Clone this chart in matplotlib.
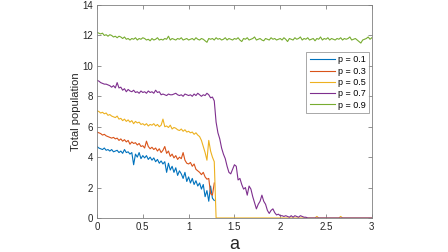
import numpy as np
import matplotlib
matplotlib.use("Agg")
import matplotlib.pyplot as plt

plt.rcParams.update({
    'font.family': ['Liberation Sans', 'DejaVu Sans'],
    'font.size': 7,
})

# a axis sampled every 0.02
a_step = 0.02

p_green = [  # p = 0.9
    12.2, 12.15, 12.1, 12.15, 12.0, 12.05, 11.95, 12.05, 12.0, 11.9, 11.95,
    11.85, 11.95, 11.9, 11.8, 11.9, 11.75, 11.8, 11.7, 11.8, 11.75, 11.85, 11.7, 11.8, 11.75, 11.85,
    11.8, 11.7, 11.75, 11.65, 11.8, 11.7, 11.75, 11.85, 11.7, 11.75, 11.7, 11.8, 11.75, 11.95, 11.7,
    11.8, 11.75, 11.7, 11.8, 11.75, 11.85, 11.7, 11.75, 11.8, 11.7,
    11.75, 11.8, 11.7, 11.85, 11.75, 11.7, 11.8, 11.75, 11.65, 11.55, 11.8, 11.75, 11.8, 11.7, 11.85,
    11.75, 11.8, 11.7, 11.75, 11.85, 11.7, 11.8, 11.75, 11.7, 11.8,
    11.75, 11.85, 11.7, 11.6, 11.8, 11.75, 11.85, 11.7, 11.75, 11.8, 11.9, 11.7, 11.75, 11.8, 11.7,
    11.65, 11.8, 11.75, 11.7, 11.85, 11.75, 11.8, 11.7, 11.75, 11.8,
    11.7, 11.85, 11.75, 11.6, 11.8, 11.75, 11.7, 11.85, 11.75, 11.8, 11.9, 11.7, 11.8, 11.75, 11.85,
    11.7, 11.75, 11.8, 11.65, 11.8, 11.75, 11.9, 11.7, 11.8, 11.75,
    11.85, 11.7, 11.8, 11.75, 11.7, 11.8, 11.75, 11.85, 11.7, 11.8, 11.75, 11.8, 11.9, 11.7, 11.75,
    11.8, 11.7, 11.6, 11.5, 11.7, 11.75, 11.8, 11.9, 11.75, 11.85,
]

p_purple = [  # p = 0.7
    9.05, 9.0, 8.9, 8.85, 8.8, 8.8, 8.75, 8.7, 8.6, 8.7, 8.55,
    8.9, 8.55, 8.6, 8.4, 8.5, 8.3, 8.45, 8.35, 8.3, 8.4, 8.25, 8.3, 8.2, 8.35, 8.25,
    8.3, 8.2, 8.35, 8.25, 8.3, 8.2, 8.4, 8.25, 8.3, 8.1, 8.15, 8.1, 8.05, 8.15, 8.1,
    8.1, 8.15, 8.2, 8.1, 8.05, 8.1, 8.0, 8.15, 8.1, 8.05,
    8.1, 8.0, 8.15, 8.05, 8.2, 8.1, 8.0, 8.1, 8.05, 8.2, 8.1, 7.9, 7.95, 7.7,
    6.3, 5.6, 5.2, 4.6, 4.2, 3.9, 3.4, 3.0, 2.9, 3.2, 3.5, 3.4, 2.5, 2.6, 2.2,
    1.9, 2.0, 1.5, 2.1, 1.9, 1.4, 1.0, 0.6, 0.9, 1.1, 1.5, 1.1, 0.9, 0.5, 0.3,
    0.5, 0.6, 0.35, 0.2, 0.25, 0.15, 0.15, 0.1, 0.15, 0.1, 0.05, 0.15, 0.05, 0.15, 0.1,
    0.05, 0.15, 0.1, 0.05, 0.05, 0.0,
    0.0, 0.0, 0.0, 0.0, 0.0, 0.0, 0.0, 0.0, 0.0, 0.0, 0.0, 0.0, 0.0, 0.0, 0.0,
    0.0, 0.0, 0.0, 0.0, 0.0, 0.0, 0.0, 0.0, 0.0, 0.0, 0.0, 0.0, 0.0, 0.0, 0.0,
    0.0, 0.0, 0.0, 0.0, 0.0,
]

p_yellow = [  # p = 0.5
    7.05, 7.0, 6.9, 6.95, 6.85, 6.9, 6.75, 6.8, 6.7, 6.65, 6.6,
    6.7, 6.5, 6.55, 6.4, 6.5, 6.35, 6.45, 6.3, 6.4, 6.2, 6.35, 6.25, 6.3, 6.15, 6.2,
    6.1, 6.2, 6.05, 6.15, 6.1, 6.2, 6.05, 6.15, 6.0, 6.1, 6.5, 6.0, 6.05, 5.95, 6.1,
    5.85, 5.95, 5.9, 5.8, 5.75, 5.85, 5.7, 5.8, 5.65, 5.7,
    5.6, 5.65, 5.5, 5.6, 5.45, 5.35, 5.1, 4.7, 4.3, 3.8, 5.1, 4.4, 4.0, 3.7,
    0.0, 0.0, 0.0, 0.0, 0.0, 0.0, 0.0, 0.0, 0.0, 0.0, 0.0, 0.0, 0.0, 0.0, 0.0,
    0.0, 0.0, 0.0, 0.0, 0.0, 0.0, 0.0, 0.0, 0.0, 0.0, 0.0, 0.0, 0.0, 0.0, 0.0,
    0.0, 0.0, 0.0, 0.0, 0.0, 0.0, 0.0, 0.0, 0.0, 0.0, 0.0, 0.0, 0.0, 0.0, 0.0,
    0.0, 0.0, 0.0, 0.0, 0.0, 0.0, 0.0, 0.0, 0.0, 0.0, 0.1, 0.0, 0.0, 0.0, 0.0,
    0.0, 0.0, 0.0, 0.0, 0.0, 0.0, 0.0, 0.0, 0.1, 0.0, 0.0, 0.0, 0.0, 0.0, 0.0,
    0.0, 0.0, 0.0, 0.0, 0.0, 0.0, 0.0, 0.0, 0.0, 0.0, 0.0,
]

p_red = [  # p = 0.3
    5.65, 5.6, 5.55, 5.45, 5.5, 5.4, 5.35, 5.3, 5.25, 5.3, 5.2,
    5.25, 5.1, 5.2, 5.05, 5.15, 5.0, 5.1, 4.85, 5.0, 4.9, 4.95, 4.8, 4.9, 4.7, 4.75,
    4.6, 5.05, 4.7, 4.55, 4.65, 4.5, 4.6, 4.4, 4.55, 4.3, 4.45, 4.7, 4.25, 4.4, 4.05,
    4.2, 3.95, 4.1, 3.85, 4.0, 3.9, 4.3, 3.8, 3.6, 3.55,
    3.65, 3.4, 3.55, 3.2, 3.1, 3.0, 2.85, 3.0, 2.7, 2.55, 2.6, 1.6, 1.5, 2.3,
]

p_blue = [  # p = 0.1
    4.7, 4.6, 4.55, 4.5, 4.6, 4.45, 4.5, 4.4, 4.5, 4.35, 4.4,
    4.45, 4.3, 4.4, 4.25, 4.5, 4.3, 4.35, 4.2, 4.3, 3.5, 4.2, 4.0, 4.3, 3.9, 4.1,
    3.95, 4.1, 3.85, 4.0, 3.8, 3.95, 3.7, 3.85, 3.6, 3.75, 3.55, 3.7, 3.0, 3.6, 3.15,
    3.4, 3.0, 3.3, 2.8, 3.1, 2.9, 2.6, 3.0, 2.4, 2.7,
    2.3, 2.6, 2.2, 2.45, 2.1, 2.3, 1.9, 2.2, 1.4, 1.8, 1.1, 2.1, 1.3, 1.15,
]

labels = ['p = 0.1', 'p = 0.3', 'p = 0.5', 'p = 0.7', 'p = 0.9']
colors = ['#0072BD', '#D95319', '#EDB120', '#7E2F8E', '#77AC30']
series = [p_blue, p_red, p_yellow, p_purple, p_green]

xticks = [0, 0.5, 1, 1.5, 2, 2.5, 3]
xtick_labels = ['0', '0.5', '1', '1.5', '2', '2.5', '3']
yticks = [0, 2, 4, 6, 8, 10, 12, 14]

fig = plt.figure(figsize=(4.48, 2.52), dpi=100)
ax = fig.add_axes([0.2165, 0.135, 0.6135, 0.845])

for vals, c, lab in zip(series, colors, labels):
    x = np.arange(len(vals)) * a_step
    ax.plot(x, vals, color=c, linewidth=0.8, label=lab)

ax.set_xlim(0, 3)
ax.set_ylim(0, 14)
ax.set_xticks(xticks)
ax.set_xticklabels(xtick_labels)
ax.set_yticks(yticks)

axis_col = '#808080'
for s in ax.spines.values():
    s.set_color(axis_col)
    s.set_linewidth(0.6)
ax.tick_params(direction='in', length=3, width=0.6, color=axis_col,
               labelcolor='#262626', labelsize=7, top=True, right=True, pad=3)

ax.set_xlabel('a', fontsize=13, color='#262626', labelpad=3)
ax.set_ylabel('Total population', fontsize=8, color='#262626', labelpad=1)

leg = ax.legend(loc='upper right', bbox_to_anchor=(0.988, 0.778), fontsize=6.5,
                frameon=True, fancybox=False, handlelength=2.8, handletextpad=0.3,
                labelspacing=0.25, borderpad=0.35, borderaxespad=0)
leg.get_frame().set_edgecolor(axis_col)
leg.get_frame().set_linewidth(0.6)

fig.savefig('out.png', dpi=100, facecolor='white')
